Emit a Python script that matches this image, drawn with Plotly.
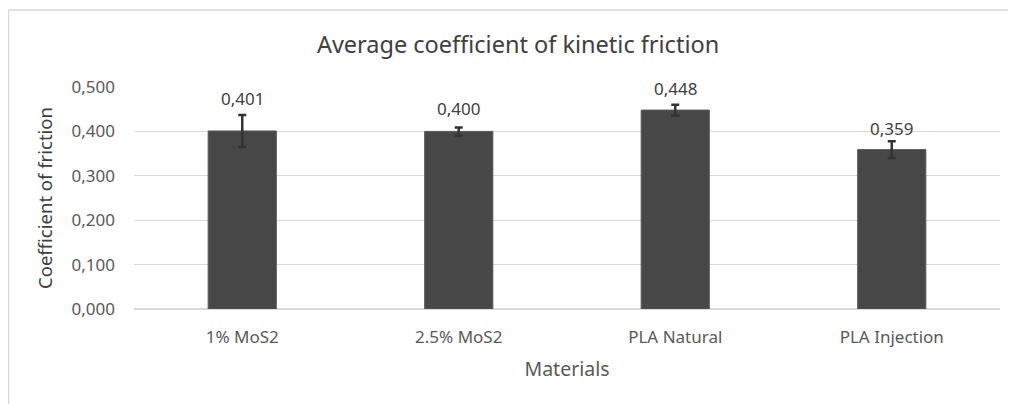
import plotly.graph_objects as go

categories = ["1% MoS2", "2.5% MoS2", "PLA Natural", "PLA Injection"]
values = [0.401, 0.400, 0.448, 0.359]
errors = [0.036, 0.009, 0.012, 0.019]
labels = ["0,401", "0,400", "0,448", "0,359"]
y_ticks = [0.0, 0.1, 0.2, 0.3, 0.4, 0.5]

FONT = "Noto Sans"
TXT = "#595959"

fig = go.Figure()
fig.add_trace(go.Bar(
    x=categories, y=values,
    marker=dict(color="#474747", line=dict(color="#5a5a5a", width=1)),
    width=0.315,
    error_y=dict(type="data", array=errors, visible=True, color="#333333",
                 thickness=2.5, width=4),
    hoverinfo="skip",
))

label_shift = [32, 23, 22, 21]
for c, v, t, s in zip(categories, values, labels, label_shift):
    fig.add_annotation(x=c, y=v, text=t, showarrow=False, yshift=s,
                       font=dict(family=FONT, size=17, color="#404040"))

fig.update_layout(
    width=1008, height=396,
    margin=dict(l=126, r=16, t=79, b=95),
    paper_bgcolor="white", plot_bgcolor="white",
    separators=", ",
    showlegend=False,
    title=dict(text="Average coefficient of kinetic friction", x=0.506, xanchor="center",
               y=0.9066, yanchor="middle",
               font=dict(family=FONT, size=23.5, color="#404040")),
    font=dict(family=FONT, color=TXT),
    xaxis=dict(title=dict(text="Materials", font=dict(family=FONT, size=19.5, color=TXT), standoff=15),
               tickfont=dict(family=FONT, size=17, color=TXT), showgrid=False,
               showline=False, ticks="", ticklabelstandoff=16),
    yaxis=dict(title=dict(text="Coefficient of friction", font=dict(family=FONT, size=18.5, color="#404040"), standoff=14),
               range=[0, 0.5], tickvals=y_ticks, tickformat=".3f",
               tickfont=dict(family=FONT, size=17, color=TXT),
               gridcolor="#d9d9d9", gridwidth=1, zeroline=True, zerolinecolor="#d9d9d9",
               showline=False, ticks="", ticklabelstandoff=18),
)

fig.add_shape(type="line", xref="paper", yref="paper", x0=-0.1449, x1=-0.1449, y0=-0.6, y1=1.347,
              line=dict(color="#d9d9d9", width=1.5))
fig.add_shape(type="line", xref="paper", yref="paper", x0=-0.1449, x1=1.0185, y0=1.347, y1=1.347,
              line=dict(color="#d9d9d9", width=1.5))

fig.write_html("out.html")
